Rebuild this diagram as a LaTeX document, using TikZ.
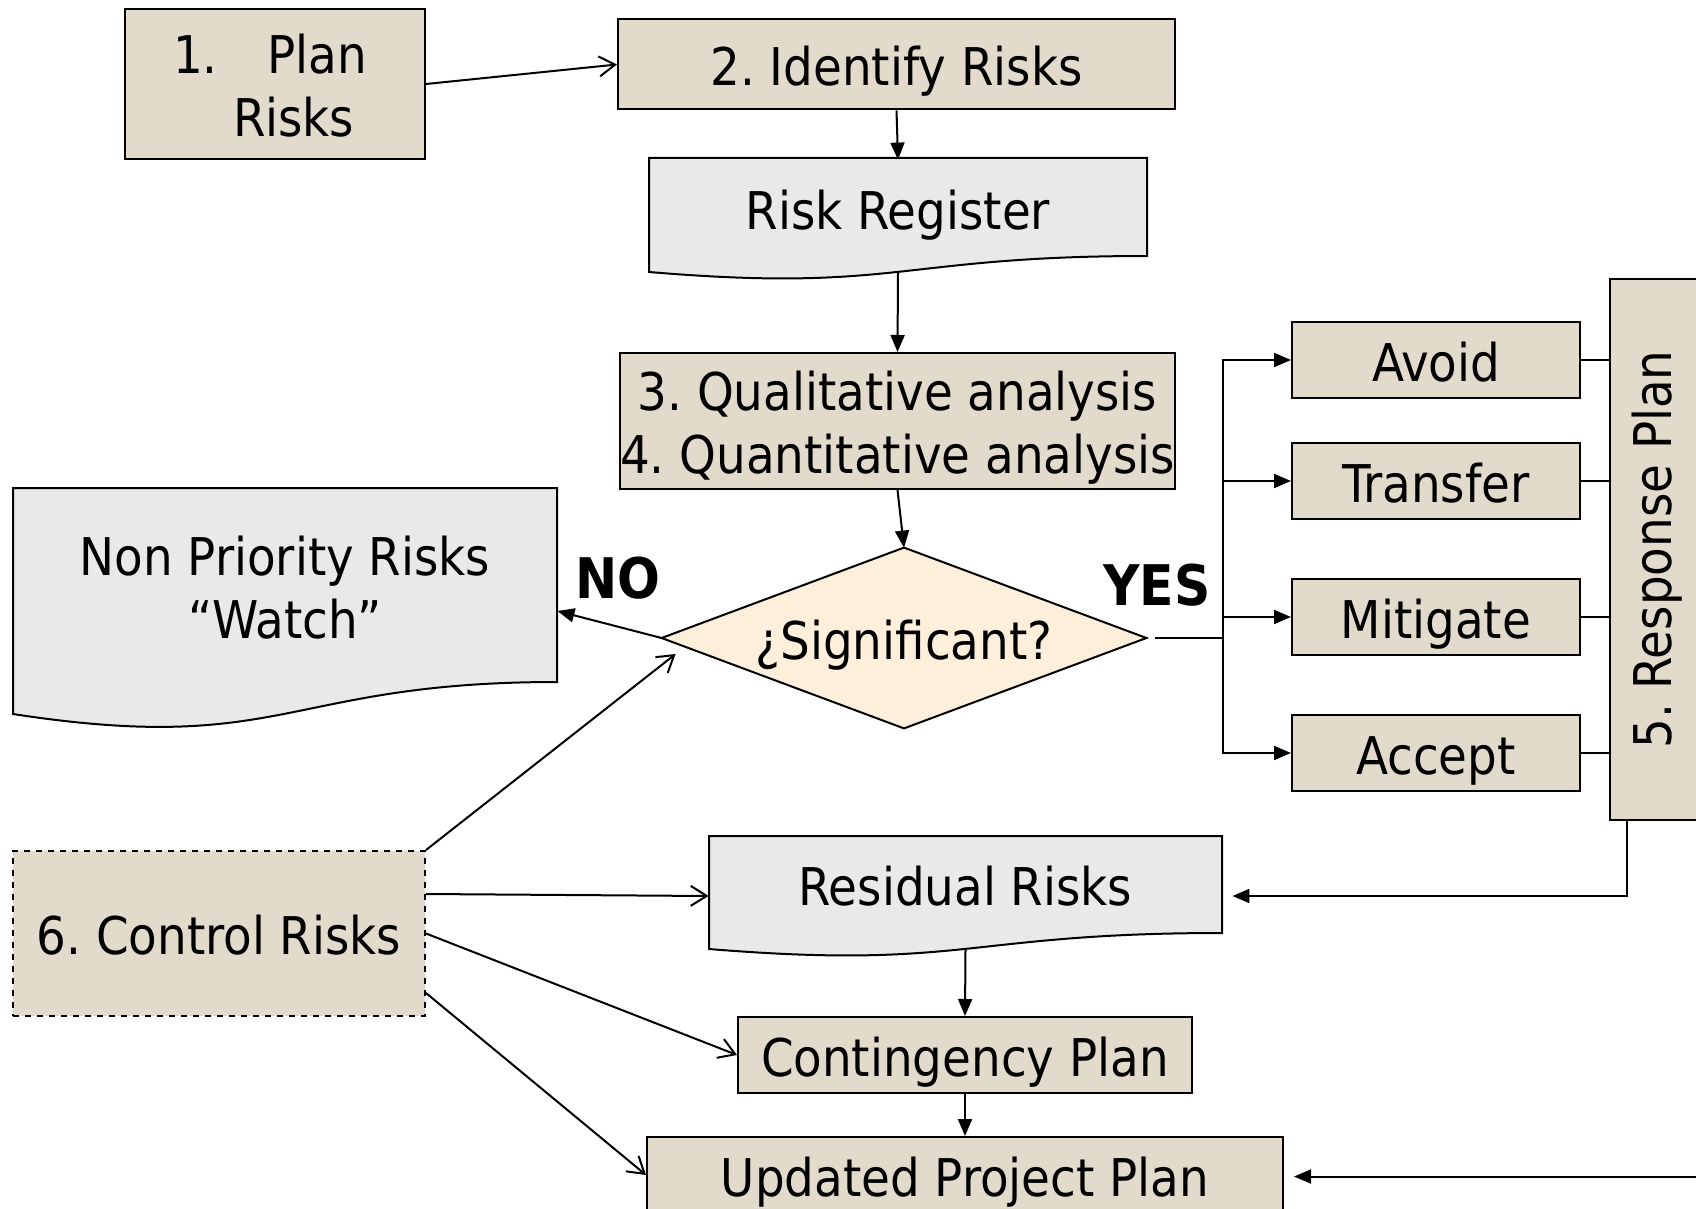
\documentclass[tikz,border=0pt]{standalone}
\usepackage{fontspec}
\setmainfont{DejaVu Sans Condensed}
\usetikzlibrary{arrows.meta,calc,backgrounds}
\definecolor{parch}{RGB}{226,218,203}
\definecolor{granite}{RGB}{233,233,233}
\definecolor{cream}{RGB}{253,239,218}

\begin{document}
\begin{tikzpicture}[x=0.5pt,y=-0.5pt,
  every node/.style={font=\fontsize{26}{31.5}\selectfont\frenchspacing},
  oneline/.style={text height=22pt, text depth=1pt},
  box/.style={draw=black, line width=1pt, fill=parch, inner sep=0pt, align=center},
  docbody/.style={inner sep=0pt, align=center},
  doc/.style={draw=black, line width=1pt, fill=granite},
  conn/.style={line width=1pt, draw=black},
  tri/.style={conn, -{Triangle[length=8.5pt,width=7pt]}},
  barb/.style={conn, -{Straight Barb[length=8pt,width=10pt]}},
  lbl/.style={font=\fontsize{28}{32}\selectfont\bfseries}
]
\clip (0,0) rectangle (1696,1209);

% document shapes (wavy lower edge)
\draw[doc] (649,158) -- (1147,158) -- (1147,256)
  .. controls (898,256) and (898,293) .. (649,272) -- cycle;
\draw[doc] (13,488) -- (557,488) -- (557,682)
  .. controls (285,682) and (285,756) .. (13,714) -- cycle;
\draw[doc] (709,836) -- (1222,836) -- (1222,933)
  .. controls (965.5,933) and (965.5,970) .. (709,949) -- cycle;

% process boxes
\node[box, minimum width=150pt, minimum height=75pt] (plan) at (275,84)
  {\raisebox{-10.3pt}[0pt][0pt]{\begin{tabular}{@{}l@{}}\makebox[102pt][l]{1.\hspace{25pt}Plan}\\
   \makebox[102pt][l]{\hspace{30pt}Risks}\end{tabular}}};
\node[box, oneline, minimum width=278.5pt, minimum height=45pt] (ident) at (896.5,64.5) {2. Identify Risks};
\node[docbody, oneline, minimum width=249pt, minimum height=49pt] (reg) at (898,209) {Risk Register};
\node[box, minimum width=277.5pt, minimum height=68pt] (ana) at (897.5,421)
  {\raisebox{-10.3pt}[0pt][0pt]{\begin{tabular}{@{}c@{}}3. Qualitative analysis\\4. Quantitative analysis\end{tabular}}};

% decision
\node[inner sep=0pt, oneline, minimum width=242pt, minimum height=90pt] (dia) at (904,638) {¿Significant?};
\begin{scope}[on background layer]
  \draw[line width=1pt, fill=cream] (dia.west) -- (dia.north) -- (dia.east) -- (dia.south) -- cycle;
\end{scope}
\node[docbody, minimum width=272pt, minimum height=97pt] (nonp) at (285,585)
  {\raisebox{-10.8pt}[0pt][0pt]{\begin{tabular}{@{}c@{}}Non Priority Risks\\“Watch”\end{tabular}}};
\node[lbl] (no) at (618,578) {NO};
\node[lbl] (yes) at (1157,585) {YES};

% response strategies
\node[box, oneline, minimum width=144pt, minimum height=38pt] (avoid) at (1436,360) {Avoid};
\node[box, oneline, minimum width=144pt, minimum height=38pt] (transfer) at (1436,481) {Transfer};
\node[box, oneline, minimum width=144pt, minimum height=38pt] (mitigate) at (1436,617) {Mitigate};
\node[box, oneline, minimum width=144pt, minimum height=38pt] (accept) at (1436,753) {Accept};
\node[box, minimum width=47.5pt, minimum height=270.5pt] (resp) at (1657.5,549.5)
  {\rotatebox{90}{5. Response Plan}};

% monitoring and outputs
\node[box, oneline, dashed, minimum width=206pt, minimum height=82.5pt] (ctrl) at (219,933.5) {6. Control Risks};
\node[docbody, oneline, minimum width=256.5pt, minimum height=48.5pt] (resid) at (965.5,884.5) {Residual Risks};
\node[box, oneline, minimum width=227pt, minimum height=38pt] (cont) at (965,1055) {Contingency Plan};
\node[box, oneline, minimum width=318pt, minimum height=38pt] (upd) at (965,1175) {Updated Project Plan};

% connectors
\draw[barb] (plan.east) -- (ident.west);
\draw[tri] (ident.south) -- (reg.north);
\coordinate (regb) at (898,272);
\draw[tri] (regb) -- (ana.north);
\draw[tri] (ana.south) -- (dia.north);
\draw[tri] (dia.west) -- ($(nonp.east)+(0,26)$);
\draw[barb] (ctrl.north east) -- ($(dia.west)+(14,16)$);

\coordinate (fork) at ($(dia.east)+(77,0)$);
\draw[conn] ($(dia.east)+(9,0)$) -- (fork);
\foreach \b in {avoid,transfer,mitigate,accept}{
  \draw[tri] (fork) |- (\b.west);
  \draw[conn] (\b.east) -- (\b.east -| resp.west);
}
\draw[tri] ($(resp.south west)+(18,0)$) |- ($(resid.east)+(10,11.5)$);

\draw[barb] ($(ctrl.east)+(0,-39.5)$) -- ($(resid.west)+(0,11.5)$);
\draw[barb] (ctrl.east) -- (cont.west);
\draw[barb] ($(ctrl.east)+(0,59.5)$) -- (upd.west);

\coordinate (resb) at ($(resid.south)+(0,16)$);
\draw[tri] (resb) -- (cont.north);
\draw[tri] (cont.south) -- (upd.north);
\coordinate (feed) at (1700,1176.5);
\draw[tri] (feed) -- ($(upd.east)+(10,1.5)$);
\end{tikzpicture}
\end{document}
